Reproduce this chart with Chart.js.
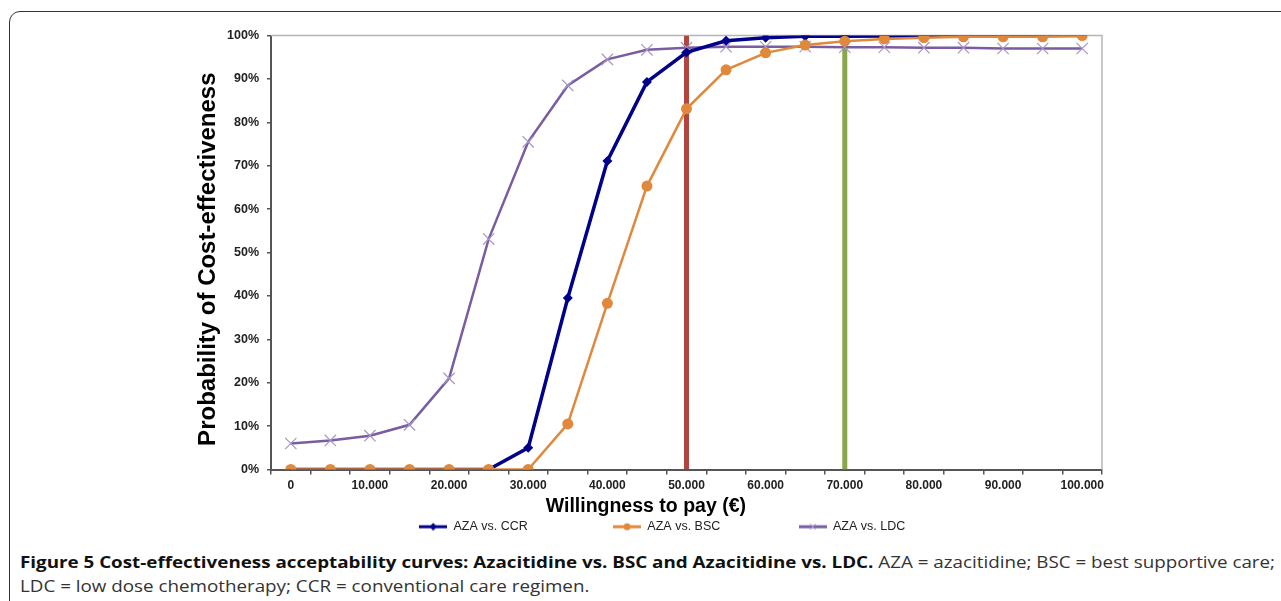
<!DOCTYPE html>
<html>
<head>
<meta charset="utf-8">
<script src="https://cdn.jsdelivr.net/npm/chart.js@4.4.1/dist/chart.umd.min.js"></script>
<style>
  html, body { margin: 0; padding: 0; background: #fff; width: 1281px; height: 601px; overflow: hidden; }
  #frame { position: absolute; left: 9px; top: 11px; width: 1400px; height: 700px; border: 1.6px solid #333; border-radius: 11px; box-sizing: border-box; }
  #wrap { position: absolute; left: 190px; top: 20px; width: 930px; height: 523px; }
  .cap { position: absolute; left: 20px; white-space: nowrap; font-family: "Open Sans", "Liberation Sans", Arial, sans-serif; font-size: 16px; color: #333; transform-origin: 0 0; }
  .cap b { color: #111; }
</style>
</head>
<body>
<div id="frame"></div>
<div id="wrap"><canvas id="c"></canvas></div>
<div class="cap" id="cap1" style="top:551px;"><b>Figure 5 Cost-effectiveness acceptability curves: Azacitidine vs. BSC and Azacitidine vs. LDC.</b> AZA = azacitidine; BSC = best supportive care;</div>
<div class="cap" id="cap2" style="top:575px;">LDC = low dose chemotherapy; CCR = conventional care regimen.</div>
<script>
// ---- data ----
const categories = ['0','5.000','10.000','15.000','20.000','25.000','30.000','35.000','40.000','45.000','50.000',
  '55.000','60.000','65.000','70.000','75.000','80.000','85.000','90.000','95.000','100.000'];
const azaVsCcr = [0, 0, 0, 0, 0, 0, 5.0, 39.5, 71.1, 89.3, 96.1, 98.8, 99.5, 99.8, 99.8, 99.9, 99.9, 100, 100, 100, 100];
const azaVsBsc = [0, 0, 0, 0, 0, 0, 0, 10.5, 38.3, 65.3, 83.1, 92.1, 96.0, 97.8, 98.7, 99.2, 99.5, 99.7, 99.7, 99.7, 100];
const azaVsLdc = [6.0, 6.7, 7.8, 10.3, 21.0, 53.1, 75.5, 88.5, 94.5, 96.7, 97.2, 97.4, 97.4, 97.4, 97.3, 97.3, 97.2, 97.2, 97.0, 97.0, 97.0];
const thresholds = ['50.000', '70.000'];
const seriesNames = ['AZA vs. CCR', 'AZA vs. BSC', 'AZA vs. LDC'];
const yTicks = [0, 10, 20, 30, 40, 50, 60, 70, 80, 90, 100];

const NAVY = '#00008b', ORANGE = '#e0893c', PURPLE = '#7a5ca0', PURPLE_MK = '#a596c8';
const RED = '#b0463f', GREEN = '#88a64a';
const FONT = 'Arial, "Liberation Sans", sans-serif';

// legend samples: line with marker
function sample(color, mk, mkColor) {
  const cv = document.createElement('canvas');
  cv.width = 28; cv.height = 12;
  const g = cv.getContext('2d');
  g.strokeStyle = color; g.lineWidth = 3;
  g.beginPath(); g.moveTo(0, 6); g.lineTo(28, 6); g.stroke();
  g.fillStyle = mkColor; g.strokeStyle = mkColor;
  if (mk === 'diamond') { g.beginPath(); g.moveTo(14, 2); g.lineTo(17.5, 6); g.lineTo(14, 10); g.lineTo(10.5, 6); g.closePath(); g.fill(); }
  else if (mk === 'circle') { g.beginPath(); g.arc(14, 6, 3.5, 0, Math.PI * 2); g.fill(); }
  else { g.lineWidth = 1; g.beginPath(); g.moveTo(11, 3); g.lineTo(17, 9); g.moveTo(17, 3); g.lineTo(11, 9); g.stroke(); }
  return cv;
}
const legendImgs = [sample(NAVY, 'diamond', NAVY), sample(ORANGE, 'circle', ORANGE), sample(PURPLE, 'x', PURPLE_MK)];
const legendGap = ['\u00a0'.repeat(24), '\u00a0'.repeat(22), '\u00a0'.repeat(14)];

const frameBorder = {
  id: 'frameBorder',
  beforeDatasetsDraw(chart) {
    const { ctx, chartArea: a } = chart;
    ctx.save();
    ctx.strokeStyle = '#b5b5b5'; ctx.lineWidth = 1.5;
    ctx.beginPath();
    ctx.moveTo(a.left, a.top); ctx.lineTo(a.right, a.top); ctx.lineTo(a.right, a.bottom);
    ctx.stroke();
    ctx.restore();
  }
};

const vline = (label, color, ord) => ({
  label: 'thr' + label, data: [{ x: label, y: 0 }, { x: label, y: 100 }],
  borderColor: color, borderWidth: 5, pointRadius: 0, order: ord
});

new Chart(document.getElementById('c'), {
  type: 'line',
  data: {
    labels: categories,
    datasets: [
      { label: seriesNames[0], data: azaVsCcr, borderColor: NAVY, backgroundColor: NAVY, borderWidth: 3.5,
        pointStyle: 'rectRot', pointRadius: 5, pointBorderWidth: 0, tension: 0, order: 2 },
      { label: seriesNames[1], data: azaVsBsc, borderColor: ORANGE, backgroundColor: ORANGE, borderWidth: 2.5,
        pointStyle: 'circle', pointRadius: 5.5, pointBorderWidth: 0, tension: 0, order: 1 },
      { label: seriesNames[2], data: azaVsLdc, borderColor: PURPLE, backgroundColor: PURPLE_MK, borderWidth: 2.5,
        pointStyle: 'crossRot', pointRadius: 8, pointBorderColor: PURPLE_MK, pointBorderWidth: 1.2, tension: 0, order: 3 },
      vline(thresholds[0], RED, 5),
      vline(thresholds[1], GREEN, 6)
    ]
  },
  options: {
    responsive: true, maintainAspectRatio: false, animation: false,
    layout: { padding: { top: 15, right: 18, left: 0, bottom: 0 } },
    plugins: {
      tooltip: { enabled: false },
      legend: {
        position: 'bottom', fullSize: false,
        labels: {
          font: { family: FONT, size: 12.5 },
          color: '#222', usePointStyle: true, pointStyleWidth: 28, padding: 2, boxHeight: 12,
          generateLabels(chart) {
            return seriesNames.map((n, i) => ({
              text: n + legendGap[i], pointStyle: legendImgs[i], datasetIndex: i, hidden: false,
              fillStyle: 'transparent', strokeStyle: 'transparent', lineWidth: 0, fontColor: '#222'
            }));
          }
        }
      }
    },
    scales: {
      x: {
        type: 'category', offset: true,
        grid: { display: true, offset: true, drawOnChartArea: false, drawTicks: true, tickLength: 5, color: '#555', lineWidth: 1.5 },
        border: { display: true, color: '#555', width: 2 },
        ticks: {
          autoSkip: false, maxRotation: 0, padding: 4, color: '#222',
          font: { family: FONT, size: 12, weight: 'bold' },
          callback(v, i) { return i % 2 === 0 ? categories[i] : ''; }
        },
        title: { display: true, text: 'Willingness to pay (€)' + '\u00a0'.repeat(15), color: '#000', padding: { top: 2, bottom: 0 },
          font: { family: FONT, size: 19.5, weight: 'bold' } },
        afterFit(s) { s.height = 49; }
      },
      y: {
        min: 0, max: 100,
        afterBuildTicks(s) { s.ticks = yTicks.map(v => ({ value: v })); },
        grid: { display: true, drawOnChartArea: false, drawTicks: true, tickLength: 4, color: '#555', lineWidth: 1.5 },
        border: { display: true, color: '#555', width: 2 },
        ticks: {
          padding: 8, color: '#222',
          font: { family: FONT, size: 12.5, weight: 'bold' },
          callback(v) { return v + '%'; }
        },
        title: { display: true, text: 'Probability of Cost-effectiveness\u00a0\u00a0', color: '#000', padding: 4,
          font: { family: FONT, size: 24, weight: 'bold' } },
        afterFit(s) { s.width = 81; }
      }
    }
  },
  plugins: [frameBorder]
});

// fit caption lines to the reference width
(function () {
  const c1 = document.getElementById('cap1'), c2 = document.getElementById('cap2');
  const k = 1255 / c1.getBoundingClientRect().width;
  c1.style.transform = 'scaleX(' + k + ')';
  c2.style.transform = 'scaleX(' + k + ')';
})();
</script>
</body>
</html>
